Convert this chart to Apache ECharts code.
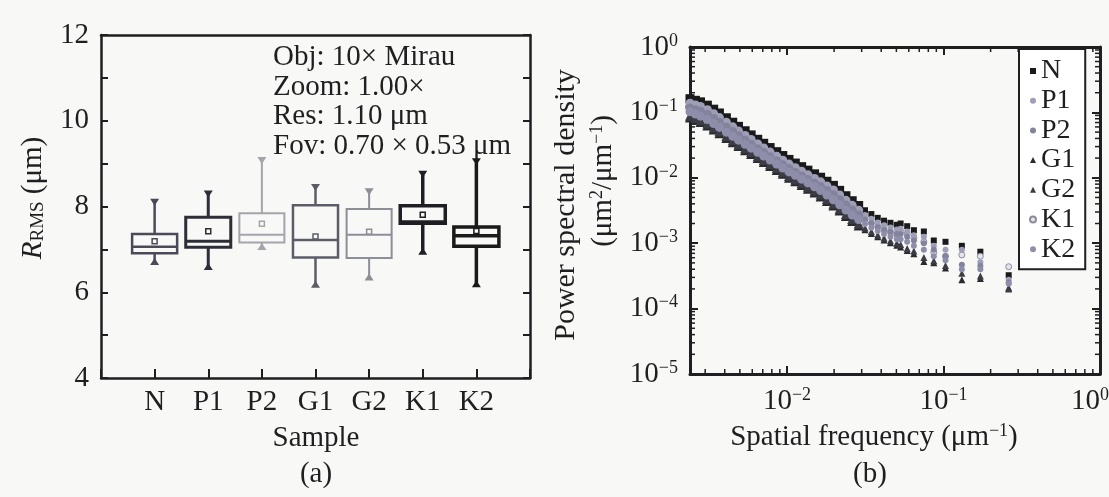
<!DOCTYPE html>
<html>
<head>
<meta charset="utf-8">
<script src="https://cdn.jsdelivr.net/npm/echarts@6/dist/echarts.min.js"></script>
<style>
html,body{margin:0;padding:0;background:#f8f8f6;}
#main{width:1109px;height:497px;}
</style>
</head>
<body>
<div id="main"></div>
<script>
//(a) 箱线图数据
var samples = ['N','P1','P2','G1','G2','K1','K2'];
var whiskerLow = [6.73, 6.61, 7.08, 6.20, 6.37, 6.97, 6.21];
var boxQ1 = [6.91, 7.05, 7.16, 6.81, 6.80, 7.61, 7.07];
var boxMedian = [7.06, 7.19, 7.34, 7.22, 7.34, 7.64, 7.32];
var boxQ3 = [7.36, 7.75, 7.84, 8.03, 7.94, 8.02, 7.52];
var whiskerHigh = [8.09, 8.28, 9.06, 8.43, 8.33, 8.74, 9.03];
var boxMean = [7.19, 7.42, 7.60, 7.30, 7.41, 7.81, 7.43];
var infoLines = ['Obj: 10× Mirau','Zoom: 1.00×','Res: 1.10 μm','Fov: 0.70 × 0.53 μm'];

//(b) 功率谱密度数据
var freq = [0.0024, 0.0026, 0.0028, 0.0031, 0.0034, 0.0037, 0.0041, 0.0045, 0.0049, 0.0054, 0.0059, 0.0065, 0.0071, 0.0078, 0.0086, 0.0094, 0.0103, 0.0113, 0.0124, 0.0136, 0.015, 0.0164, 0.018, 0.0198, 0.0217, 0.0238, 0.0261, 0.0287, 0.0315, 0.0346, 0.038, 0.0417, 0.0458, 0.0503, 0.0532, 0.0586, 0.0647, 0.0749, 0.0867, 0.103, 0.131, 0.172, 0.261];
var psdN = [0.162, 0.153, 0.145, 0.129, 0.112, 0.098, 0.0828, 0.0708, 0.0612, 0.0524, 0.0453, 0.0388, 0.0337, 0.029, 0.0251, 0.0219, 0.0191, 0.0168, 0.0148, 0.0131, 0.0115, 0.0102, 0.00885, 0.00766, 0.00643, 0.00532, 0.00446, 0.00377, 0.00319, 0.00279, 0.00244, 0.00221, 0.00205, 0.00191, 0.002, 0.00182, 0.00158, 0.00151, 0.0011, 0.00105, 0.000912, 0.000741, 0.000324];
var psdP1 = [0.138, 0.13, 0.123, 0.11, 0.0952, 0.0833, 0.0704, 0.0602, 0.052, 0.0445, 0.0385, 0.033, 0.0286, 0.0247, 0.0213, 0.0186, 0.0162, 0.0143, 0.0126, 0.0111, 0.00978, 0.00867, 0.00752, 0.00651, 0.00547, 0.00452, 0.00379, 0.0032, 0.00271, 0.00237, 0.00207, 0.00188, 0.00174, 0.00162, 0.00166, 0.00151, 0.00132, 0.00126, 0.000912, 0.000794, 0.000794, 0.000513, 0.000275];
var psdP2 = [0.117, 0.11, 0.104, 0.0929, 0.0806, 0.0706, 0.0596, 0.051, 0.0441, 0.0377, 0.0326, 0.0279, 0.0243, 0.0209, 0.0181, 0.0158, 0.0138, 0.0121, 0.0107, 0.00943, 0.00828, 0.00734, 0.00637, 0.00552, 0.00463, 0.00383, 0.00321, 0.00271, 0.0023, 0.00201, 0.00176, 0.00159, 0.00148, 0.00138, 0.00138, 0.00126, 0.0011, 0.001, 0.000794, 0.000631, 0.000468, 0.00045, 0.000251];
var psdG1 = [0.0832, 0.0767, 0.0713, 0.0632, 0.055, 0.048, 0.0406, 0.0351, 0.0306, 0.0264, 0.0231, 0.02, 0.0175, 0.0152, 0.0132, 0.0115, 0.01, 0.00883, 0.00776, 0.00679, 0.00594, 0.00518, 0.00443, 0.00376, 0.00315, 0.00261, 0.00219, 0.00187, 0.0016, 0.00141, 0.00125, 0.00112, 0.00102, 0.000933, 0.000871, 0.000776, 0.000692, 0.000525, 0.000501, 0.000417, 0.000275, 0.000288, 0.000209];
var psdG2 = [0.089, 0.0821, 0.0763, 0.0676, 0.0589, 0.0514, 0.0434, 0.0376, 0.0327, 0.0282, 0.0247, 0.0214, 0.0187, 0.0163, 0.0141, 0.0123, 0.0107, 0.00945, 0.0083, 0.00727, 0.00636, 0.00554, 0.00474, 0.00402, 0.00337, 0.00279, 0.00234, 0.002, 0.00171, 0.00151, 0.00134, 0.0012, 0.00109, 0.000998, 0.000955, 0.000832, 0.000759, 0.000603, 0.000537, 0.000457, 0.000347, 0.000316, 0.0002];
var psdK1 = [0.121, 0.111, 0.103, 0.0916, 0.0798, 0.0696, 0.0589, 0.0509, 0.0444, 0.0383, 0.0335, 0.029, 0.0254, 0.022, 0.0191, 0.0167, 0.0145, 0.0128, 0.0113, 0.00985, 0.00861, 0.00751, 0.00642, 0.00545, 0.00457, 0.00378, 0.00318, 0.00271, 0.00232, 0.00204, 0.00181, 0.00162, 0.00148, 0.00135, 0.00151, 0.00138, 0.0012, 0.00105, 0.000724, 0.000631, 0.000661, 0.000631, 0.000437];
var psdK2 = [0.102, 0.0943, 0.0877, 0.0777, 0.0677, 0.059, 0.0499, 0.0432, 0.0376, 0.0325, 0.0284, 0.0246, 0.0215, 0.0187, 0.0162, 0.0141, 0.0123, 0.0109, 0.00954, 0.00835, 0.00731, 0.00637, 0.00545, 0.00462, 0.00387, 0.00321, 0.00269, 0.0023, 0.00197, 0.00173, 0.00154, 0.00138, 0.00125, 0.00115, 0.00115, 0.00105, 0.000912, 0.000794, 0.000631, 0.00055, 0.000398, 0.000398, 0.00024];

var serif = '"Liberation Serif","DejaVu Serif",serif';
var ink = '#1f1f22';
var xMinB = 0.0024, xMaxB = 1, yMinB = 1e-5, yMaxB = 1;

//箱体样式
var boxColors = ['#4a4a58','#2e2e38','#a4a4ac','#5c5c68','#8e8e98','#1e1e24','#1a1a1a'];
var boxLines = [2.5, 3, 2, 2.5, 2, 3.5, 3.5];

function renderBox(params, api){
	var i = params.dataIndex;
	var x = api.value(0);
	var c = boxColors[i], lw = boxLines[i];
	var half = api.size([1,0])[0]*0.42;
	var pLow = api.coord([x, api.value(1)]);
	var pQ1 = api.coord([x, api.value(2)]);
	var pMed = api.coord([x, api.value(3)]);
	var pQ3 = api.coord([x, api.value(4)]);
	var pHigh = api.coord([x, api.value(5)]);
	var pMean = api.coord([x, api.value(6)]);
	var st = {stroke:c, lineWidth:lw, fill:'none'};
	var cx = pLow[0];
	return {type:'group', children:[
		{type:'line', shape:{x1:cx,y1:pHigh[1],x2:cx,y2:pQ3[1]}, style:st},
		{type:'line', shape:{x1:cx,y1:pQ1[1],x2:cx,y2:pLow[1]}, style:st},
		{type:'rect', shape:{x:cx-half,y:pQ3[1],width:half*2,height:pQ1[1]-pQ3[1]}, style:st},
		{type:'line', shape:{x1:cx-half,y1:pMed[1],x2:cx+half,y2:pMed[1]}, style:st},
		{type:'rect', shape:{x:cx-2.5,y:pMean[1]-2.5,width:5,height:5}, style:{stroke:c,lineWidth:1.5,fill:'none'}},
		{type:'polygon', shape:{points:[[cx-4.5,pHigh[1]-4],[cx+4.5,pHigh[1]-4],[cx,pHigh[1]+3]]}, style:{fill:c}},
		{type:'polygon', shape:{points:[[cx-4.5,pLow[1]+4],[cx+4.5,pLow[1]+4],[cx,pLow[1]-3]]}, style:{fill:c}}
	]};
}

//对数轴的次刻度
var xMinor = [], yMinor = [];
[-3,-2,-1].forEach(function(n){
	for(var m=2;m<=9;m++){
		var v = m*Math.pow(10,n);
		if(v>xMinB && v<xMaxB) xMinor.push([v, yMinB]);
	}
});
[-5,-4,-3,-2,-1].forEach(function(n){
	for(var m=2;m<=9;m++){
		yMinor.push([xMinB, m*Math.pow(10,n)]);
	}
});
function renderXMinor(params, api){
	var v = api.value(0);
	var pb = api.coord([v, yMinB]), pt = api.coord([v, yMaxB]);
	var st = {stroke:ink, lineWidth:1.5};
	return {type:'group', children:[
		{type:'line', shape:{x1:pb[0],y1:pb[1],x2:pb[0],y2:pb[1]-5}, style:st},
		{type:'line', shape:{x1:pt[0],y1:pt[1],x2:pt[0],y2:pt[1]+5}, style:st}
	]};
}
function renderYMinor(params, api){
	var v = api.value(1);
	var pl = api.coord([xMinB, v]), pr = api.coord([xMaxB, v]);
	var st = {stroke:ink, lineWidth:1.5};
	return {type:'group', children:[
		{type:'line', shape:{x1:pl[0],y1:pl[1],x2:pl[0]+5,y2:pl[1]}, style:st},
		{type:'line', shape:{x1:pr[0],y1:pr[1],x2:pr[0]-5,y2:pr[1]}, style:st}
	]};
}

function powLabel(v){
	var e = Math.log10(v);
	var n = Math.round(e);
	if(Math.abs(e-n)>1e-6) return '';
	if(n===0 && v>0.5) return '{b|10}{sr|0}';   //右端标签往左收一点
	return '{b|10}{s|' + (n<0 ? '−' + (-n) : n) + '}';
}
var powRich = {
	b:{fontFamily:serif,fontSize:29,color:ink,lineHeight:30},
	s:{fontFamily:serif,fontSize:18,color:ink,lineHeight:14,verticalAlign:'top'},
	sr:{fontFamily:serif,fontSize:18,color:ink,lineHeight:14,verticalAlign:'top',padding:[0,20,0,0]}
};
var powRichY = {
	b:{fontFamily:serif,fontSize:29,color:ink,lineHeight:30},
	s:{fontFamily:serif,fontSize:18,color:ink,lineHeight:14,verticalAlign:'top'},
	sr:{fontFamily:serif,fontSize:18,color:ink,lineHeight:14,verticalAlign:'top'}
};

function pairs(arr){
	return freq.map(function(f,i){ return [f, arr[i]]; });
}
//密集段用大一点的点，使其连成带状
function psdSeries(name, arr, symbol, size, color, border, z){
	return {
		name:name, type:'scatter', xAxisIndex:2, yAxisIndex:2,
		data:pairs(arr), symbol:symbol, z:z,
		symbolSize:function(val){ return val[0] < 0.03 ? size + 3 : size; },
		itemStyle:{color:color, borderColor:border||color, borderWidth:border?1:0, opacity:1}
	};
}

var axisLine = {show:true, onZero:false, lineStyle:{color:ink, width:2.5}};
var axisLineB = {show:true, onZero:false, lineStyle:{color:ink, width:3}};
var chart = echarts.init(document.getElementById('main'));
chart.setOption({
	animation:false,
	backgroundColor:'#f8f8f6',
	grid:[
		{left:101, top:35, width:429, height:343, outerBoundsMode:'none'},
		{left:690, top:47, width:410, height:327, outerBoundsMode:'none'}
	],
	xAxis:[{
		gridIndex:0, type:'value', min:0, max:8, interval:1,
		axisLine:axisLine, splitLine:{show:false},
		axisTick:{inside:true, length:9, lineStyle:{color:ink,width:2}},
		axisLabel:{margin:10, fontFamily:serif, fontSize:29, color:ink,
			formatter:function(v){ return samples[v-1] || ''; }}
	},{
		gridIndex:0, type:'value', min:0, max:8, position:'top',
		axisLine:axisLine, axisTick:{show:false}, axisLabel:{show:false}, splitLine:{show:false}
	},{
		gridIndex:1, type:'log', min:xMinB, max:xMaxB,
		axisLine:axisLineB, splitLine:{show:false},
		axisTick:{inside:true, length:8, lineStyle:{color:ink,width:2}},
		axisLabel:{margin:12, formatter:powLabel, rich:powRich}
	},{
		gridIndex:1, type:'log', min:xMinB, max:xMaxB, position:'top',
		axisLine:axisLineB, splitLine:{show:false},
		axisTick:{inside:true, length:8, lineStyle:{color:ink,width:2}},
		axisLabel:{show:false}
	}],
	yAxis:[{
		gridIndex:0, type:'value', min:4, max:12, interval:1,
		axisLine:axisLine, splitLine:{show:false},
		axisTick:{inside:true, length:7, lineStyle:{color:ink,width:2}},
		axisLabel:{margin:12, fontFamily:serif, fontSize:29, color:ink,
			formatter:function(v){ return v%2===0 ? v : ''; }}
	},{
		gridIndex:0, type:'value', min:4, max:12, interval:1, position:'right',
		axisLine:axisLine, splitLine:{show:false},
		axisTick:{inside:true, length:7, lineStyle:{color:ink,width:2}},
		axisLabel:{show:false}
	},{
		gridIndex:1, type:'log', min:yMinB, max:yMaxB,
		axisLine:axisLineB, splitLine:{show:false},
		axisTick:{inside:true, length:8, lineStyle:{color:ink,width:2}},
		axisLabel:{margin:12, formatter:powLabel, rich:powRichY}
	},{
		gridIndex:1, type:'log', min:yMinB, max:yMaxB, position:'right',
		axisLine:axisLineB, splitLine:{show:false},
		axisTick:{inside:true, length:8, lineStyle:{color:ink,width:2}},
		axisLabel:{show:false}
	}],
	legend:{
		data:samples, orient:'vertical', left:1019, top:49,
		itemWidth:6, itemHeight:6, itemGap:1.7,
		padding:[8,10,6,10],
		borderColor:ink, borderWidth:2, backgroundColor:'#ffffff',
		textStyle:{fontFamily:serif, fontSize:28, color:ink}
	},
	graphic:[{
		type:'text', left:273, top:43,
		style:{text:infoLines.join('\n'), fontFamily:serif, fontSize:29, lineHeight:29.5, fill:ink}
	},{
		type:'text', x:33, y:198, rotation:Math.PI/2,
		style:{text:'{r|R}{sub|RMS}{n| (μm)}', align:'center', verticalAlign:'middle',
			rich:{
				r:{fontFamily:serif, fontSize:29, fontStyle:'italic', fill:ink, lineHeight:30},
				sub:{fontFamily:serif, fontSize:19, fill:ink, lineHeight:20, verticalAlign:'bottom'},
				n:{fontFamily:serif, fontSize:29, fill:ink, lineHeight:30}
			}}
	},{
		type:'text', x:316, y:438,
		style:{text:'Sample', align:'center', verticalAlign:'middle', fontFamily:serif, fontSize:29, fill:ink}
	},{
		type:'text', x:316, y:474,
		style:{text:'(a)', align:'center', verticalAlign:'middle', fontFamily:serif, fontSize:29, fill:ink}
	},{
		type:'text', x:566, y:205, rotation:Math.PI/2,
		style:{text:'Power spectral density', align:'center', verticalAlign:'middle', fontFamily:serif, fontSize:30, fill:ink}
	},{
		type:'text', x:603, y:181, rotation:Math.PI/2,
		style:{text:'{n|(μm}{s|2}{n|/μm}{s|−1}{n|)}', align:'center', verticalAlign:'middle',
			rich:{
				n:{fontFamily:serif, fontSize:29, fill:ink, lineHeight:30},
				s:{fontFamily:serif, fontSize:18, fill:ink, lineHeight:14, verticalAlign:'top'}
			}}
	},{
		type:'text', x:874, y:437,
		style:{text:'{n|Spatial frequency (μm}{s|−1}{n|)}', align:'center', verticalAlign:'middle',
			rich:{
				n:{fontFamily:serif, fontSize:29, fill:ink, lineHeight:30},
				s:{fontFamily:serif, fontSize:18, fill:ink, lineHeight:14, verticalAlign:'top'}
			}}
	},{
		type:'text', x:870, y:474,
		style:{text:'(b)', align:'center', verticalAlign:'middle', fontFamily:serif, fontSize:29, fill:ink}
	}],
	series:[{
		name:'box', type:'custom', xAxisIndex:0, yAxisIndex:0,
		renderItem:renderBox,
		encode:{x:0, y:[1,2,3,4,5,6]},
		data:samples.map(function(s,i){
			return [i+1, whiskerLow[i], boxQ1[i], boxMedian[i], boxQ3[i], whiskerHigh[i], boxMean[i]];
		})
	},{
		name:'xminor', type:'custom', xAxisIndex:2, yAxisIndex:2, silent:true,
		renderItem:renderXMinor, encode:{x:0, y:1}, data:xMinor
	},{
		name:'yminor', type:'custom', xAxisIndex:2, yAxisIndex:2, silent:true,
		renderItem:renderYMinor, encode:{x:0, y:1}, data:yMinor
	},
		psdSeries('N', psdN, 'rect', 6, '#1a1a1a', null, 2),
		psdSeries('G1', psdG1, 'triangle', 7, '#2a2a30', null, 2),
		psdSeries('G2', psdG2, 'triangle', 7, '#3c3c44', null, 2),
		psdSeries('K1', psdK1, 'circle', 6, '#e4e4ec', '#8c8c9c', 3),
		psdSeries('P1', psdP1, 'circle', 6, '#9e9eb6', null, 4),
		psdSeries('P2', psdP2, 'circle', 6, '#83839e', null, 4),
		psdSeries('K2', psdK2, 'circle', 6, '#8e8eaa', null, 4)
	]
});
</script>
</body>
</html>
